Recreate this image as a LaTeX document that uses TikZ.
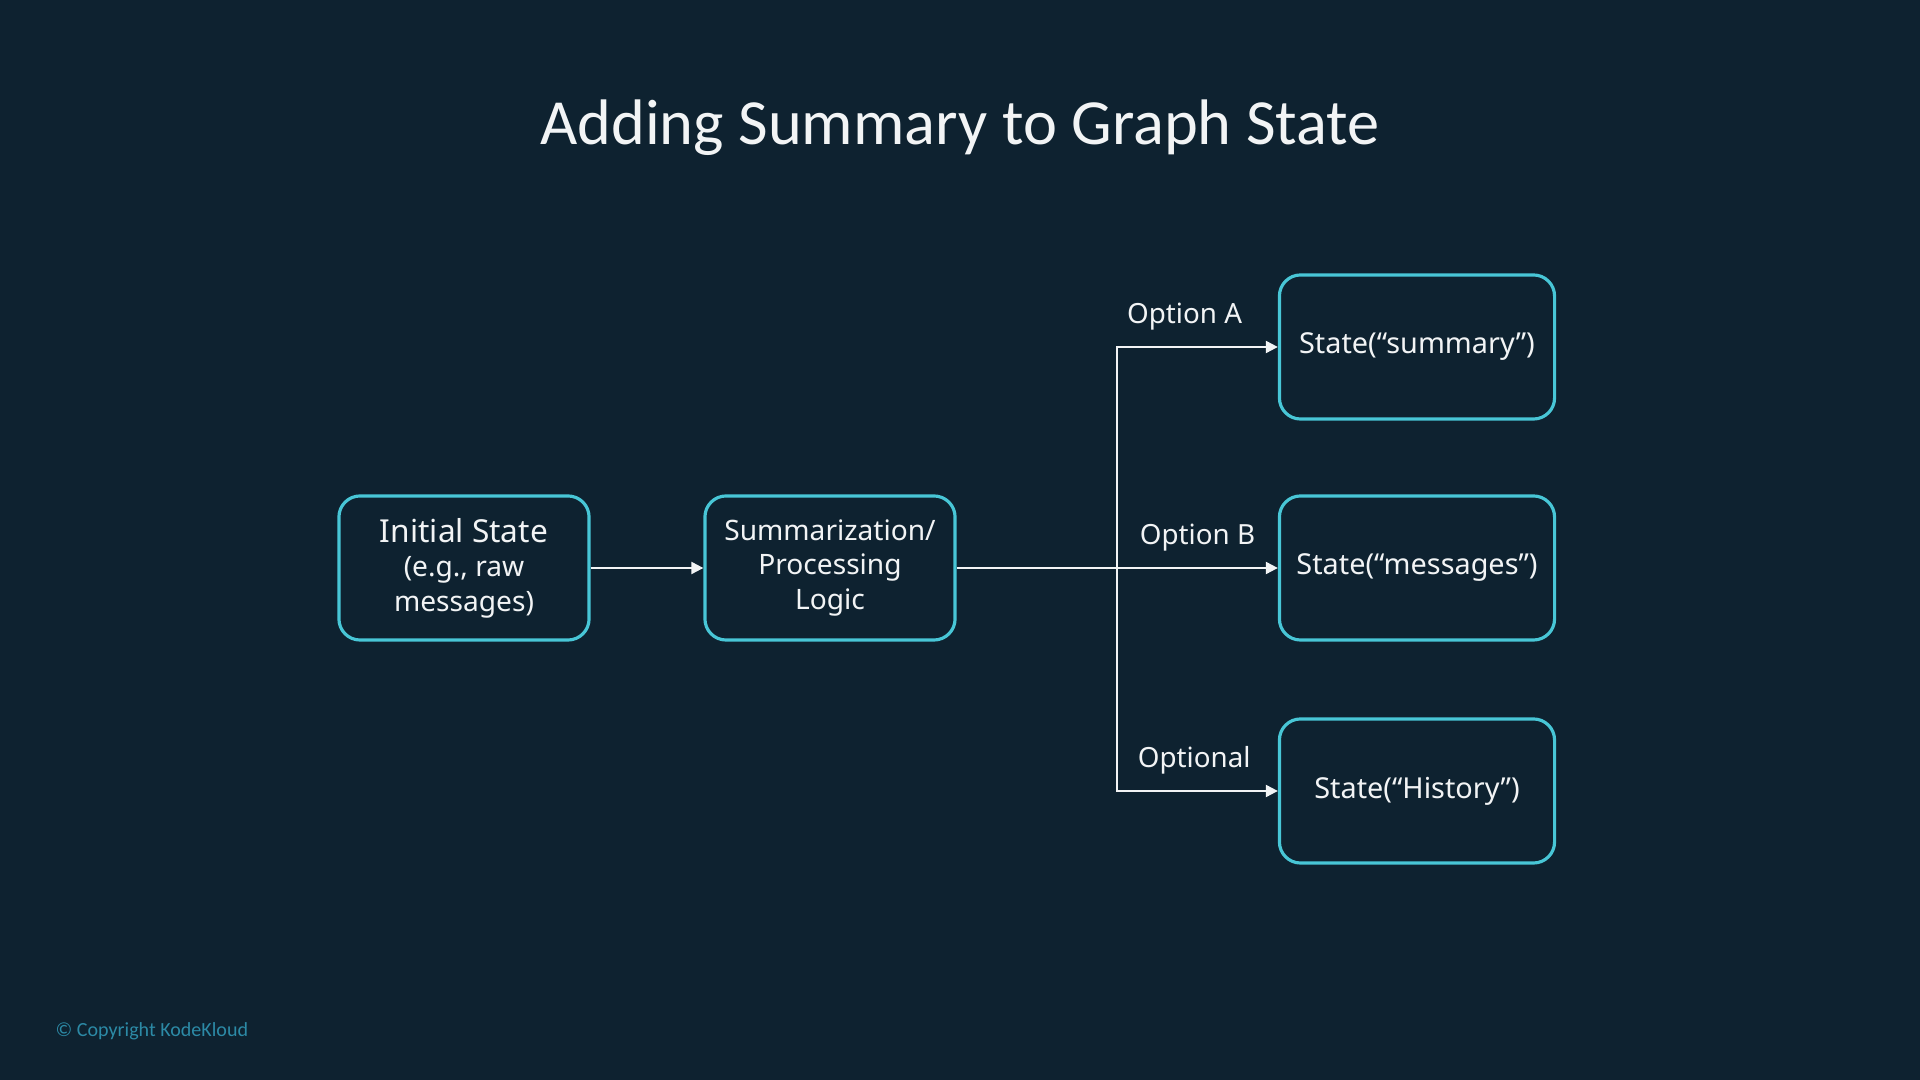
\documentclass[tikz,border=0pt]{standalone}
\usepackage{fontspec}
\setmainfont{Noto Sans}
\newfontfamily\titulo{Carlito}
\usetikzlibrary{arrows.meta}

\definecolor{fondo}{HTML}{0E2230}
\definecolor{borde}{HTML}{48C6D6}
\definecolor{texto}{HTML}{F2F4F5}
\definecolor{marca}{HTML}{2C8AA6}

\begin{document}
\begin{tikzpicture}[x=0.01cm,y=-0.01cm,
  caja/.style={draw=borde,line width=0.9pt,rounded corners=6pt,fill=fondo,
    text=texto,align=center,inner sep=0pt,minimum height=1.44cm,
    font=\fontsize{8}{9.8}\selectfont},
  flecha/.style={draw=texto,line width=0.6pt,-{Triangle[length=3.4pt,width=3.4pt]}},
  etiqueta/.style={text=texto,inner sep=0pt,yshift=8.6pt,font=\fontsize{7.9}{9}\selectfont}]
  % Fondo y marco de la lámina
  \fill[fondo] (0,0) rectangle (1920,1080);
  \useasboundingbox (0,0) rectangle (1920,1080);

  % Título
  \node[text=texto,font=\titulo\fontsize{18.3}{22}\selectfont] (titulo) at (960,128)
    {Adding Summary to Graph State};

  % Cajas de la izquierda
  \node[caja,minimum width=2.5cm] (inicial) at (464,568)
    {{\fontsize{9}{10}\selectfont Initial State}\\(e.g., raw\\messages)};
  \node[caja,minimum width=2.5cm] (proceso) at (830,568)
    {Summarization/\\Processing\\Logic};

  % Estados resultantes
  \node[caja,minimum width=2.75cm,font=\fontsize{8.2}{10}\selectfont] (resumen) at (1417,347) {State(“summary”)};
  \node[caja,minimum width=2.75cm,font=\fontsize{8.2}{10}\selectfont] (mensajes) at (1417,568) {State(“messages”)};
  \node[caja,minimum width=2.75cm,font=\fontsize{8.2}{10}\selectfont] (historia) at (1417,791) {State(“History”)};

  % Punto de bifurcación
  \coordinate (rama) at (1117,568);

  % Conexiones
  \draw[flecha] (inicial) -- (proceso);
  \draw[flecha] (proceso) -- (mensajes)
    node[etiqueta,pos=0.75] (opB) {Option B};
  \draw[flecha] (rama) |- (resumen)
    node[etiqueta,pos=0.71] (opA) {Option A};
  \draw[flecha] (rama) |- (historia)
    node[etiqueta,pos=0.74] (opC) {Optional};

  % Pie
  \node[text=marca,anchor=west,inner sep=0pt,font=\titulo\fontsize{5.7}{6}\selectfont] (copia) at (55,1031)
    {© Copyright KodeKloud};
\end{tikzpicture}
\end{document}
